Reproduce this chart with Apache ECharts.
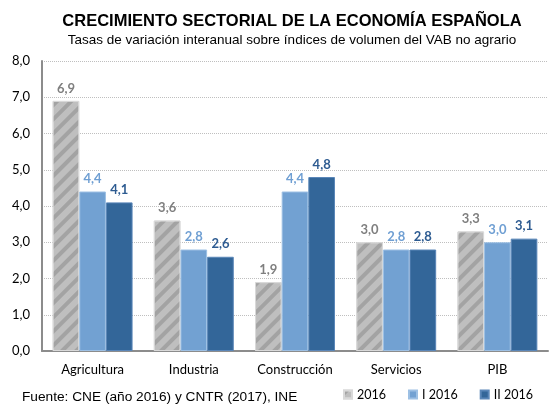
<!DOCTYPE html>
<html lang="es">
<head>
    <meta charset="UTF-8">
    <title>Crecimiento sectorial de la economía española</title>
    <script src="https://cdn.jsdelivr.net/npm/echarts@6.0.0/dist/echarts.min.js"></script>
    <style>
        body { margin: 0; }
        #chart { width: 551px; height: 405px; }
    </style>
</head>
<body>
    <div id="chart"></div>

    <script>
        var sectores = ['Agricultura', 'Industria', 'Construcción', 'Servicios', 'PIB'];
        var serie2016 = [6.9, 3.6, 1.9, 3.0, 3.3];
        var serieI2016 = [4.4, 2.8, 4.4, 2.8, 3.0];
        var serieII2016 = [4.1, 2.6, 4.8, 2.8, 3.1];
        var nombres = ['2016', 'I 2016', 'II 2016'];

        var fuenteEje = 'Lato, "Open Sans", sans-serif';
        var coma = function (v) { return v.toFixed(1).replace('.', ','); };

        var chart = echarts.init(document.getElementById('chart'));

        function etiqueta(color) {
            return {
                show: true,
                position: 'top',
                distance: 6,
                color: color,
                fontFamily: fuenteEje,
                fontWeight: 'bold',
                fontSize: 13,
                formatter: function (p) { return coma(p.value); }
            };
        }

        chart.setOption({
            title: {
                text: 'CRECIMIENTO SECTORIAL DE LA ECONOMÍA ESPAÑOLA',
                subtext: 'Tasas de variación interanual sobre índices de volumen del VAB no agrario',
                left: 287,
                textAlign: 'center',
                top: 8,
                itemGap: 3,
                textStyle: { fontFamily: '"Liberation Sans", Arial', fontSize: 16.5, fontWeight: 'bold', color: '#000' },
                subtextStyle: { fontFamily: '"Liberation Sans", Arial', fontSize: 13.5, color: '#000' }
            },
            graphic: [{
                type: 'text',
                left: 22,
                top: 390,
                style: {
                    text: 'Fuente: CNE (año 2016) y CNTR (2017), INE',
                    font: '13.7px "Liberation Sans", Arial',
                    fill: '#000'
                }
            }],
            legend: {
                data: nombres,
                left: 343,
                top: 388,
                width: 208,
                padding: 0,
                itemWidth: 8,
                itemHeight: 8,
                itemGap: 22,
                icon: 'rect',
                textStyle: { fontFamily: fuenteEje, fontSize: 12.5, color: '#000' }
            },
            grid: { left: 42, right: 3, top: 61, bottom: 54 },
            xAxis: {
                type: 'category',
                data: sectores,
                axisLine: { lineStyle: { color: '#8c8c8c', width: 2 } },
                axisTick: { show: false },
                axisLabel: { fontFamily: fuenteEje, fontSize: 13, color: '#000', margin: 12 }
            },
            yAxis: {
                type: 'value',
                min: 0,
                max: 8,
                interval: 1,
                axisLine: { show: true, lineStyle: { color: '#8c8c8c', width: 2 } },
                axisTick: { show: false },
                splitLine: { lineStyle: { color: '#bfbfbf', type: 'dotted' } },
                axisLabel: { fontFamily: fuenteEje, fontSize: 13, color: '#000', margin: 12, formatter: coma }
            },
            series: [{
                name: nombres[0],
                type: 'bar',
                data: serie2016,
                barGap: '0%',
                barCategoryGap: '21%',
                itemStyle: {
                    color: '#bfbfbf',
                    borderColor: '#d9d9d9',
                    borderWidth: 1,
                    decal: {
                        symbol: 'rect',
                        symbolSize: 1,
                        color: 'rgba(140,140,140,0.55)',
                        dashArrayX: [1, 0],
                        dashArrayY: [4, 6],
                        rotation: -Math.PI / 4
                    }
                },
                label: etiqueta('#7f7f7f')
            }, {
                name: nombres[1],
                type: 'bar',
                data: serieI2016,
                itemStyle: { color: '#72a1d2', borderColor: '#9dc0e4', borderWidth: 1 },
                label: etiqueta('#6f9fd3')
            }, {
                name: nombres[2],
                type: 'bar',
                data: serieII2016,
                itemStyle: { color: '#336699', borderColor: '#5a86b8', borderWidth: 1 },
                label: etiqueta('#2d5b91')
            }]
        });
    </script>
</body>
</html>
